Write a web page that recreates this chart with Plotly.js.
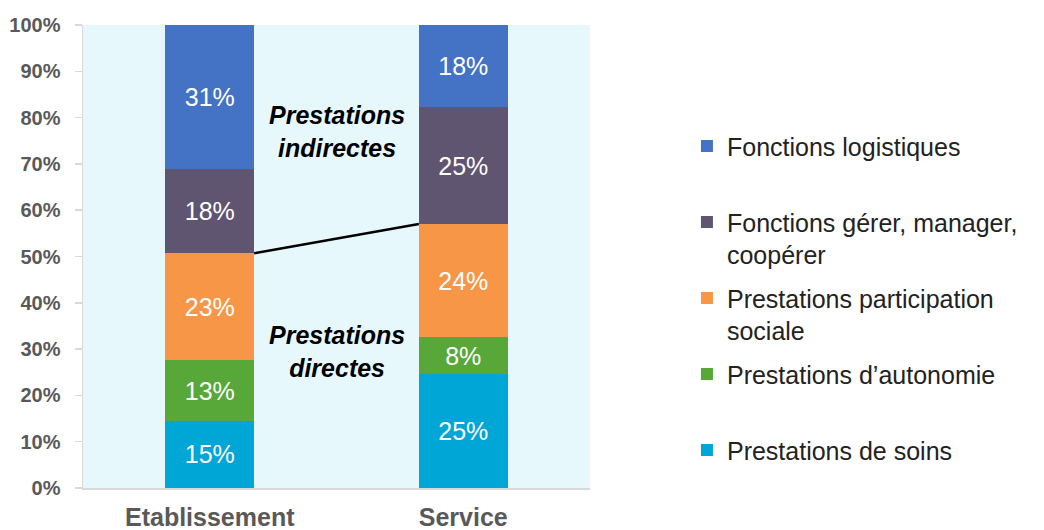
<!DOCTYPE html>
<html>
<head>
<meta charset="utf-8">
<script src="https://cdn.plot.ly/plotly-3.0.1.min.js"></script>
<style>html,body{margin:0;padding:0;background:#fff;}#chart{width:1044px;height:530px;}</style>
</head>
<body>
<div id="chart"></div>
<script>
const categories = ['Etablissement', 'Service'];
const seriesNames = [
  'Prestations de soins',
  'Prestations d\u2019autonomie',
  'Prestations participation<br>sociale',
  'Fonctions gérer, manager,<br>coopérer',
  'Fonctions logistiques'
];
const soins = [14.5, 24.6];
const autonomie = [13.1, 8.0];
const participation = [23.1, 24.4];
const gerer = [18.2, 25.3];
const logistique = [31.1, 17.7];
const soinsLabels = ['15%', '25%'];
const autonomieLabels = ['13%', '8%'];
const participationLabels = ['23%', '24%'];
const gererLabels = ['18%', '25%'];
const logistiqueLabels = ['31%', '18%'];
const yTickVals = [0,10,20,30,40,50,60,70,80,90,100];
const yTickText = ['0%','10%','20%','30%','40%','50%','60%','70%','80%','90%','100%'];

const values = [soins, autonomie, participation, gerer, logistique];
const labels = [soinsLabels, autonomieLabels, participationLabels, gererLabels, logistiqueLabels];
const colors = ['#00a6d6', '#57a839', '#f79646', '#5f5570', '#4472c4'];
const FONT = 'Liberation Sans, Arial, sans-serif';

const traces = values.map((v, i) => ({
  type: 'bar',
  x: categories,
  y: v,
  name: seriesNames[i].indexOf('<br>') >= 0 ? seriesNames[i] : seriesNames[i] + '<br> ',
  legendgroup: 'g' + i,
  legendrank: 10 - i,
  text: labels[i],
  textposition: 'inside',
  insidetextanchor: 'middle',
  textangle: 0,
  constraintext: 'none',
  textfont: {family: FONT, size: 25, color: '#ffffff'},
  marker: {color: colors[i], line: {width: 0}},
  hoverinfo: 'skip'
}));

const halfBar = 0.175;
const yLeft = soins[0] + autonomie[0] + participation[0];
const yRight = soins[1] + autonomie[1] + participation[1];

const layout = {
  width: 1044, height: 530,
  margin: {l: 83, r: 454, t: 25, b: 42},
  barmode: 'stack',
  bargap: 0.65,
  paper_bgcolor: '#ffffff',
  plot_bgcolor: '#e7f8fd',
  showlegend: true,
  legend: {
    xref: 'container', yref: 'container',
    x: 0.658, y: 0.7675, xanchor: 'left', yanchor: 'top',
    traceorder: 'grouped',
    tracegroupgap: 8,
    valign: 'top',
    maxheight: 520,
    font: {family: FONT, size: 25, color: '#222222'},
    bgcolor: 'rgba(0,0,0,0)'
  },
  xaxis: {
    type: 'category',
    range: [-0.5, 1.5],
    showline: true, linecolor: '#d9d9d9', linewidth: 1.5,
    ticks: '', showgrid: false, zeroline: false,
    tickfont: {family: FONT, size: 25, color: '#595959', weight: 'bold'},
    ticklabelstandoff: 6
  },
  yaxis: {
    range: [0, 100],
    tickvals: yTickVals, ticktext: yTickText,
    showline: true, linecolor: '#d9d9d9', linewidth: 1.5,
    ticks: 'outside', ticklen: 7, tickcolor: '#d9d9d9', tickwidth: 1.5,
    showgrid: false, zeroline: false,
    tickfont: {family: FONT, size: 20, color: '#595959', weight: 'bold'},
    ticklabelstandoff: 10
  },
  shapes: [{
    type: 'line', xref: 'x', yref: 'y',
    x0: 0 + halfBar, y0: yLeft, x1: 1 - halfBar, y1: yRight,
    line: {color: '#000000', width: 2.5}
  }],
  annotations: [
    {xref: 'x', yref: 'y', x: 0.5, y: 77.1, showarrow: false,
     text: '<b><i>Prestations<br>indirectes</i></b>',
     font: {family: FONT, size: 25, color: '#000000'}},
    {xref: 'x', yref: 'y', x: 0.5, y: 29.5, showarrow: false,
     text: '<b><i>Prestations<br>directes</i></b>',
     font: {family: FONT, size: 25, color: '#000000'}}
  ]
};

Plotly.newPlot('chart', traces, layout, {displayModeBar: false, staticPlot: true});
</script>
</body>
</html>
